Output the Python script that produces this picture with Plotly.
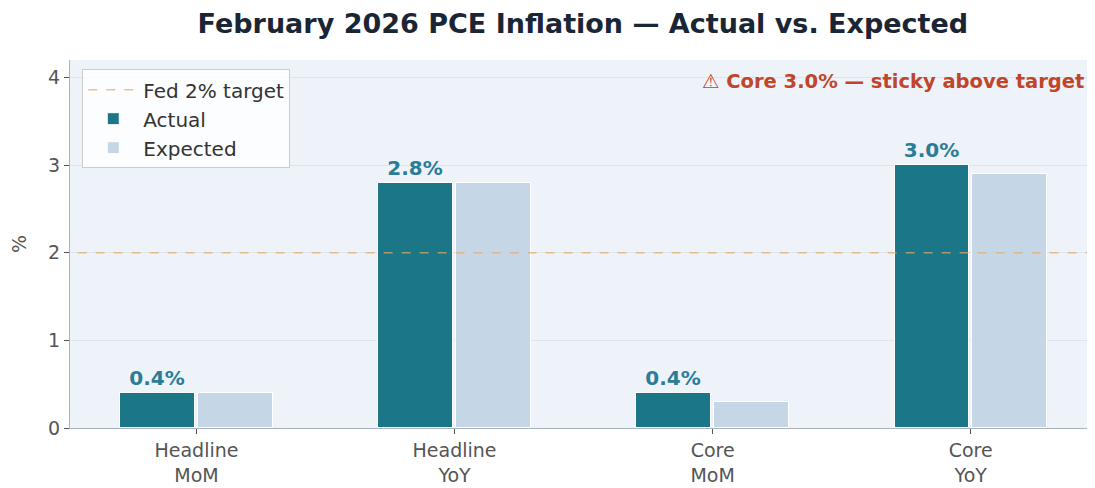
import plotly.graph_objects as go

categories = ["Headline<br>MoM", "Headline<br>YoY", "Core<br>MoM", "Core<br>YoY"]
actual = [0.4, 2.8, 0.4, 3.0]
expected = [0.4, 2.8, 0.3, 2.9]
target = 2.0
actual_labels = [f"{v:.1f}%" for v in actual]

x = list(range(len(categories)))
off = 0.15

fig = go.Figure()
fig.add_trace(go.Scatter(
    x=[-0.6, 3.6], y=[target, target], mode="lines",
    line=dict(color="rgba(228,170,100,0.7)", width=1.6, dash="dash"),
    name="Fed 2% target"))
fig.add_trace(go.Bar(
    x=[i - off for i in x], y=actual, width=0.29, name="Actual",
    marker=dict(color="#1b7787", line=dict(color="white", width=1)),
    text=actual_labels, textposition="outside",
    textfont=dict(family="DejaVu Sans", size=20, color="#2b7d96", weight="bold"),
    cliponaxis=False))
fig.add_trace(go.Bar(
    x=[i + off for i in x], y=expected, width=0.29, name="Expected",
    marker=dict(color="#c5d6e6", line=dict(color="white", width=1))))

fig.add_annotation(
    x=1, y=3.95, xref="paper", yref="y", xanchor="right", yanchor="middle",
    text="⚠ Core 3.0% — sticky above target", showarrow=False,
    font=dict(family="DejaVu Sans", size=19.5, color="#c0452a", weight="bold"), xshift=-6)

fig.update_layout(
    width=1095, height=488,
    margin=dict(l=62, r=11, t=52, b=68, autoexpand=False),
    paper_bgcolor="white", plot_bgcolor="#eef3f9",
    barmode="overlay", bargap=0,
    title=dict(text="<b>February 2026 PCE Inflation — Actual vs. Expected</b>",
               x=0.525, xanchor="center", y=0.968, yanchor="middle",
               font=dict(family="DejaVu Sans", size=27, color="#1a2535")),
    font=dict(family="DejaVu Sans", size=19, color="#555555"),
    legend=dict(x=0.012, y=0.975, xanchor="left", yanchor="top",
                bgcolor="rgba(255,255,255,0.8)", bordercolor="#cccccc", borderwidth=1,
                font=dict(size=20, color="#333333"), tracegroupgap=0, itemwidth=50),
    showlegend=True,
)
fig.update_xaxes(
    range=[-0.49, 3.47], tickmode="array", tickvals=x, ticktext=categories,
    showgrid=False, zeroline=False, showline=True, linecolor="#aab3bd", linewidth=1.2,
    ticks="outside", ticklen=5, tickcolor="#555555", ticklabelstandoff=0,
    automargin=False,
    tickfont=dict(size=19, color="#555555"))
fig.update_yaxes(
    range=[0, 4.2], tickvals=[0, 1, 2, 3, 4],
    showgrid=True, gridcolor="#dde4ec", gridwidth=1, zeroline=False,
    showline=True, linecolor="#aab3bd", linewidth=1.2,
    ticks="outside", ticklen=5, tickcolor="#555555", automargin=False,
    title=dict(text="%", font=dict(size=19, color="#555555"), standoff=20),
    tickfont=dict(size=19, color="#555555"))

fig.write_html("out.html")
